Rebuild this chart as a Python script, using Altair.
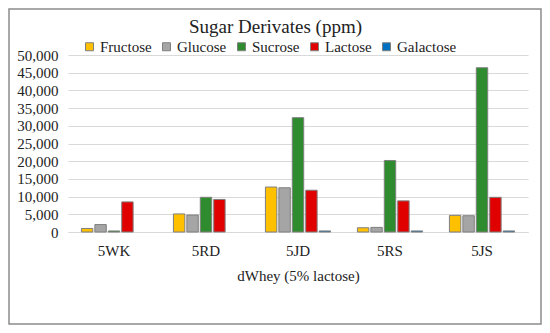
import altair as alt
import pandas as pd

samples = ["5WK", "5RD", "5JD", "5RS", "5JS"]
sugars = ["Fructose", "Glucose", "Sucrose", "Lactose", "Galactose"]
colors = ["#FFC000", "#A5A5A5", "#2E8B2E", "#E00000", "#0070C0"]

fructose = [1000, 5100, 12700, 1200, 4700]
glucose = [2100, 4800, 12500, 1300, 4600]
sucrose = [300, 9800, 32300, 20200, 46400]
lactose = [8500, 9200, 11800, 8800, 9800]
galactose = [0, 0, 300, 300, 300]

series = [fructose, glucose, sucrose, lactose, galactose]
rows = []
for name, vals in zip(sugars, series):
    for s, v in zip(samples, vals):
        rows.append({"sample": s, "sugar": name, "ppm": v})
df = pd.DataFrame(rows)

FONT = "Liberation Serif"
TXT = "#222222"

bars = alt.Chart(df).mark_bar(strokeWidth=1).encode(
    x=alt.X("sample:N", sort=samples,
            scale=alt.Scale(paddingInner=0.27, paddingOuter=0.135),
            axis=alt.Axis(title="dWhey (5% lactose)", labelAngle=0, ticks=False,
                          domainColor="#D9D9D9", labelPadding=11, titlePadding=10,
                          labelFontSize=15, titleFontSize=15, titleFontWeight="normal")),
    xOffset=alt.XOffset("sugar:N", sort=sugars,
                        scale=alt.Scale(paddingInner=0.15, paddingOuter=0.075)),
    y=alt.Y("ppm:Q", scale=alt.Scale(domain=[0, 50000], nice=False),
            axis=alt.Axis(title=None, values=list(range(0, 50001, 5000)), format=",.0f",
                          ticks=False, domain=False, gridColor="#D9D9D9",
                          labelPadding=10, labelFontSize=15)),
    color=alt.Color("sugar:N", sort=sugars,
                    scale=alt.Scale(domain=sugars, range=colors),
                    legend=alt.Legend(title=None, orient="none", direction="horizontal",
                                      legendX=14, legendY=-16, symbolType="square",
                                      symbolSize=64, symbolStrokeColor="#7F7F7F",
                                      symbolStrokeWidth=1, labelFontSize=15,
                                      labelOffset=3, columnPadding=7, columns=5)),
    stroke=alt.condition(alt.datum.ppm > 0, alt.value("#7F7F7F"), alt.value("transparent")),
)

border = alt.Chart(pd.DataFrame({"a": [0]})).mark_rect(
    fill="transparent", stroke="#8C8C8C", strokeWidth=1.5
).encode(x=alt.value(-59), x2=alt.value(473), y=alt.value(-46), y2=alt.value(269))

title = alt.Chart(pd.DataFrame({"t": ["Sugar Derivates (ppm)"]})).mark_text(
    fontSize=19, font=FONT, color=TXT, baseline="middle", align="center"
).encode(text="t:N", x=alt.value(207.5), y=alt.value(-28))

chart = alt.layer(border, title, bars).properties(
    width=460, height=177,
    autosize=alt.AutoSizeParams(type="none"),
    padding={"left": 60, "top": 47, "right": 14, "bottom": 93},
).configure(font=FONT).configure_view(stroke=None).configure_axis(
    labelFont=FONT, titleFont=FONT, labelColor=TXT, titleColor=TXT
).configure_legend(labelFont=FONT, labelColor=TXT)

chart.save("out.html", embed_options={"renderer": "svg", "actions": False})
